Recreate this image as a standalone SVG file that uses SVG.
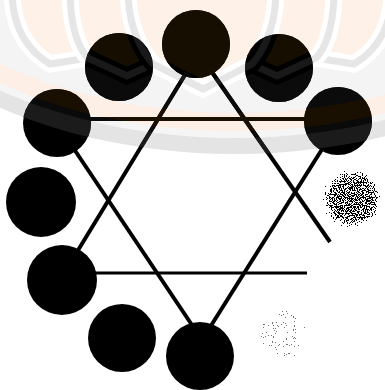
<svg xmlns="http://www.w3.org/2000/svg" width="385" height="390" viewBox="0 0 385 390">
<defs>
<style>
.node{fill:#000}
.edge{stroke:#000;stroke-width:4;fill:none;stroke-linecap:butt}
.hedge{stroke:#000;stroke-width:3;fill:none}
.pf{fill:#fdf1e8;stroke:none}
.pw{fill:none;stroke:#fff;stroke-width:17;stroke-linejoin:miter}
.pg{fill:none;stroke:#e6e6e6;stroke-width:7;stroke-linejoin:miter}
.m{fill:#fff}
.ml{stroke:#fff;stroke-width:4;fill:none}
</style>
<path id="p1" d="M12,-10 C12,30 30,52 50,64 L88,58 C96,40 100,20 100,-10 Z"/>
<path id="p5" d="M392,-10 C392,30 374,52 354,64 L316,58 C308,40 304,20 304,-10 Z"/>
<path id="p2" d="M70,-10 C70,30 80,50 88,58 L127,76 L153,64 C162,52 172,30 172,-10 Z"/>
<path id="p4" d="M334,-10 C334,30 324,50 316,58 L277,76 L251,64 C242,52 232,30 232,-10 Z"/>
<path id="p3" d="M128,-10 C128,30 144,54 153,64 L203,89 L252,64 C261,54 276,30 276,-10 Z"/>
<filter id="inv" filterUnits="userSpaceOnUse" x="0" y="0" width="385" height="390" color-interpolation-filters="sRGB">
<feColorMatrix type="matrix" values="0 0 -1 0 1  0 -1 0 0 1  -1 0 0 0 1  0 0 0 1 0"/>
</filter>
<mask id="dk" maskUnits="userSpaceOnUse" x="0" y="0" width="385" height="390">
<circle class="m" cx="196" cy="44" r="34"/>
<circle class="m" cx="119" cy="67" r="34"/>
<circle class="m" cx="279" cy="68" r="34"/>
<circle class="m" cx="57" cy="123" r="34"/>
<circle class="m" cx="338" cy="121" r="34"/>
<circle class="m" cx="41" cy="202" r="35"/>
<line class="ml" x1="194" y1="60" x2="66" y2="270"/>
<line class="ml" x1="203.5" y1="60" x2="330" y2="242"/>
<line class="ml" x1="64.6" y1="135" x2="202" y2="340"/>
<line class="ml" x1="331" y1="135" x2="202" y2="340"/>
<line class="ml" x1="57" y1="119" x2="338" y2="119"/>
</mask>
<radialGradient id="gDense">
<stop offset="0" stop-color="#000" stop-opacity="0.93"/>
<stop offset="0.7" stop-color="#000" stop-opacity="0.89"/>
<stop offset="1" stop-color="#000" stop-opacity="0.62"/>
</radialGradient>
<radialGradient id="gFaint">
<stop offset="0" stop-color="#000" stop-opacity="0.75"/>
<stop offset="0.7" stop-color="#000" stop-opacity="0.72"/>
<stop offset="1" stop-color="#000" stop-opacity="0.5"/>
</radialGradient>
<filter id="speck" x="-5%" y="-5%" width="110%" height="110%" color-interpolation-filters="sRGB">
<feTurbulence type="fractalNoise" baseFrequency="0.9" numOctaves="1" seed="7" result="n"/>
<feColorMatrix in="n" type="matrix" values="0 0 0 0 0  0 0 0 0 0  0 0 0 0 0  1 0 0 0 0" result="na"/>
<feComposite in="SourceGraphic" in2="na" operator="arithmetic" k1="0" k2="1" k3="1" k4="-0.9" result="s"/>
<feComponentTransfer in="s"><feFuncA type="discrete" tableValues="0 1"/></feComponentTransfer>
</filter>
</defs>
<rect width="385" height="390" fill="#fff"/>
<g id="wm">
<ellipse cx="235" cy="-130" rx="430" ry="284" fill="#e4e4e4"/>
<ellipse cx="235" cy="-130" rx="414" ry="268" fill="#f5f5f5"/>
<ellipse cx="235" cy="-130" rx="407" ry="261" fill="#fdefe5"/>
<ellipse cx="235" cy="-130" rx="389" ry="243" fill="#f4f4f4"/>
<g><use href="#p1" class="pf"/><use href="#p1" class="pw"/><use href="#p1" class="pg"/></g>
<g><use href="#p5" class="pf"/><use href="#p5" class="pw"/><use href="#p5" class="pg"/></g>
<g><use href="#p2" class="pf"/><use href="#p2" class="pw"/><use href="#p2" class="pg"/></g>
<g><use href="#p4" class="pf"/><use href="#p4" class="pw"/><use href="#p4" class="pg"/></g>
<g><use href="#p3" class="pf"/><use href="#p3" class="pw"/><use href="#p3" class="pg"/></g>
</g>
<g id="connectors">
<line class="edge" x1="194" y1="60" x2="66" y2="270"/>
<line class="edge" x1="203.5" y1="60" x2="330" y2="242"/>
<line class="edge" x1="64.6" y1="135" x2="202" y2="340"/>
<line class="edge" x1="331" y1="135" x2="202" y2="340"/>
<line class="hedge" x1="57" y1="119" x2="338" y2="119"/>
<line class="hedge" x1="62" y1="273" x2="307" y2="273"/>
</g>
<g id="n1"><circle class="node" cx="196" cy="44" r="34"/></g>
<g id="n2"><circle class="node" cx="119" cy="67" r="34"/></g>
<g id="n3"><circle class="node" cx="279" cy="68" r="34"/></g>
<g id="n4"><circle class="node" cx="57" cy="123" r="34"/></g>
<g id="n5"><circle class="node" cx="338" cy="121" r="34"/></g>
<g id="n6"><circle class="node" cx="41" cy="202" r="35"/></g>
<g id="n7"><circle cx="352" cy="199" r="32" fill="url(#gDense)" filter="url(#speck)"/></g>
<g id="n8"><circle class="node" cx="62" cy="280" r="35"/></g>
<g id="n9"><circle class="node" cx="122" cy="338" r="34"/></g>
<g id="n10"><circle class="node" cx="200" cy="356" r="34"/></g>
<g id="n11"><circle cx="282" cy="333" r="31" fill="url(#gFaint)" filter="url(#speck)" opacity="0.55"/></g>
<use href="#wm" filter="url(#inv)" mask="url(#dk)"/>
</svg>
